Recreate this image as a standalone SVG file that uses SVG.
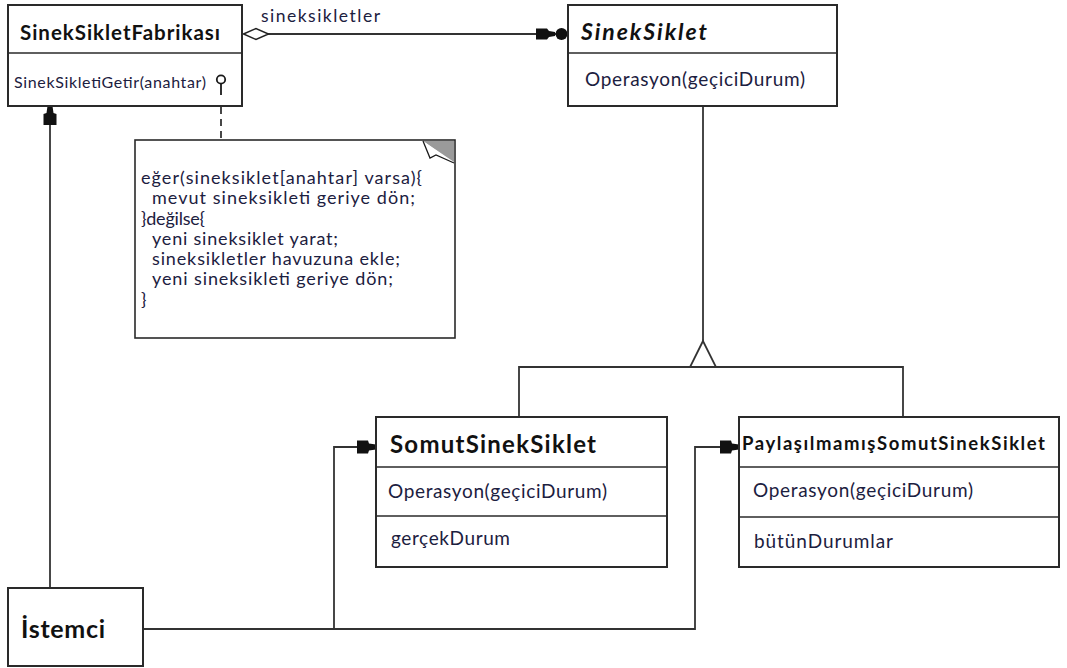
<svg xmlns="http://www.w3.org/2000/svg" width="1067" height="668" viewBox="0 0 1067 668">
  <style>
    .box { fill: #ffffff; stroke: #2a2a2a; stroke-width: 2; }
    .sep { stroke: #2a2a2a; stroke-width: 1.6; }
    .line { fill: none; stroke: #333333; stroke-width: 1.8; }
    .txt { font-family: Lato, "Noto Sans", "DejaVu Sans", sans-serif; fill: #1c2040; }
    .bold { font-weight: bold; fill: #111111; }
  </style>
  <defs>
    <!-- filled navigable arrowhead, tip at the origin pointing +x -->
    <marker id="arrow" markerUnits="userSpaceOnUse" markerWidth="24" markerHeight="16" viewBox="-20 -8 24 16" refX="0" refY="0" orient="auto" overflow="visible">
      <path d="M0,-2.5 L-7,-3.5 L-8,-6.5 L-19,-6.5 L-19,6.5 L-8,6.5 L-7,3.5 L0,2.5 Z" fill="#111111"/>
    </marker>
    <!-- arrowhead followed by a round end -->
    <marker id="arrowDot" markerUnits="userSpaceOnUse" markerWidth="40" markerHeight="16" viewBox="-36 -8 40 16" refX="0" refY="0" orient="auto" overflow="visible">
      <circle cx="-6.5" cy="0" r="6" fill="#111111"/>
      <path d="M-13,-2 L-19,-3 L-21,-5.5 L-32,-5.5 L-32,5.5 L-21,5.5 L-19,3 L-13,2 Z" fill="#111111"/>
    </marker>
  </defs>

  <!-- connectors -->
  <g id="connectors">
    <!-- aggregation: factory to flyweight -->
    <line class="line" x1="268" y1="34" x2="568" y2="34" marker-end="url(#arrowDot)"/>
    <polygon points="243.5,34 256,28.5 268.5,34 256,39.5" fill="#ffffff" stroke="#222222" stroke-width="1.5"/>
    <text class="txt" x="261" y="22" font-size="17.5" textLength="119">sineksikletler</text>

    <!-- dashed note link -->
    <line class="line" x1="221" y1="107" x2="221" y2="140" stroke-dasharray="7,5" stroke-width="1.6"/>

    <!-- generalization -->
    <line class="line" x1="703" y1="106" x2="703" y2="341"/>
    <polyline class="line" points="519,417 519,367 903,367 903,417"/>
    <polygon points="703,341 690,367 716,367" fill="#ffffff" stroke="#333333" stroke-width="1.8"/>

    <!-- client links -->
    <line class="line" x1="50" y1="588" x2="50" y2="106" marker-end="url(#arrow)"/>
    <polyline class="line" points="143,629 334,629 334,447 376,447" marker-end="url(#arrow)"/>
    <polyline class="line" points="334,629 695,629 695,447 739,447" marker-end="url(#arrow)"/>
  </g>

  <!-- Flyweight factory -->
  <g id="factory">
    <rect class="box" x="8" y="5" width="234" height="101"/>
    <line class="sep" x1="8" y1="53" x2="242" y2="53"/>
    <text class="txt bold" x="20" y="40" font-size="20.5" textLength="200">SinekSikletFabrikası</text>
    <text class="txt" x="14" y="88" font-size="16" textLength="192">SinekSikletiGetir(anahtar)</text>
    <!-- operation lollipop -->
    <circle cx="221" cy="79.5" r="4.2" fill="#ffffff" stroke="#1a1a1a" stroke-width="1.8"/>
    <line x1="221" y1="83.7" x2="221" y2="95" stroke="#1a1a1a" stroke-width="1.8"/>
  </g>

  <!-- Flyweight interface -->
  <g id="flyweight">
    <rect class="box" x="568" y="5" width="269" height="101"/>
    <line class="sep" x1="568" y1="53" x2="837" y2="53"/>
    <text class="txt bold" x="581" y="40" font-size="23" font-style="italic" textLength="126">SinekSiklet</text>
    <text class="txt" x="585" y="86" font-size="19" textLength="220">Operasyon(geçiciDurum)</text>
  </g>

  <!-- Note attached to the factory method -->
  <g id="note">
    <rect x="135" y="140" width="320" height="198" fill="#ffffff" stroke="#2a2a2a" stroke-width="1.6"/>
    <polygon points="423,141 454,141 454,162" fill="#9a9a9a"/>
    <path d="M423,141 L430,158 L436,155 L454,163" fill="#ffffff" stroke="#1a1a1a" stroke-width="1.3"/>
    <g class="txt" font-size="18">
      <text x="141" y="184" textLength="281">eğer(sineksiklet[anahtar] varsa){</text>
      <text x="152" y="204" textLength="263">mevut sineksikleti geriye dön;</text>
      <text x="141" y="225" textLength="64">}değilse{</text>
      <text x="152" y="245" textLength="186">yeni sineksiklet yarat;</text>
      <text x="152" y="265" textLength="248">sineksikletler havuzuna ekle;</text>
      <text x="152" y="285" textLength="241">yeni sineksikleti geriye dön;</text>
      <text x="141" y="306">}</text>
    </g>
  </g>

  <!-- Concrete flyweight -->
  <g id="concrete">
    <rect class="box" x="376" y="417" width="291" height="150"/>
    <line class="sep" x1="376" y1="467" x2="667" y2="467"/>
    <line class="sep" x1="376" y1="516" x2="667" y2="516"/>
    <text class="txt bold" x="390" y="453" font-size="24" textLength="206">SomutSinekSiklet</text>
    <text class="txt" x="388" y="498" font-size="19" textLength="219">Operasyon(geçiciDurum)</text>
    <text class="txt" x="391" y="545" font-size="19" textLength="119">gerçekDurum</text>
  </g>

  <!-- Unshared concrete flyweight -->
  <g id="unshared">
    <rect class="box" x="739" y="417" width="320" height="150"/>
    <line class="sep" x1="739" y1="467" x2="1059" y2="467"/>
    <line class="sep" x1="739" y1="517" x2="1059" y2="517"/>
    <text class="txt bold" x="742" y="450" font-size="18.5" textLength="303">PaylaşılmamışSomutSinekSiklet</text>
    <text class="txt" x="753" y="497" font-size="19" textLength="220">Operasyon(geçiciDurum)</text>
    <text class="txt" x="754" y="548" font-size="19" textLength="139">bütünDurumlar</text>
  </g>

  <!-- Client -->
  <g id="client">
    <rect class="box" x="8" y="588" width="135" height="78"/>
    <text class="txt bold" x="21" y="638" font-size="25" textLength="84">İstemci</text>
  </g>
</svg>
